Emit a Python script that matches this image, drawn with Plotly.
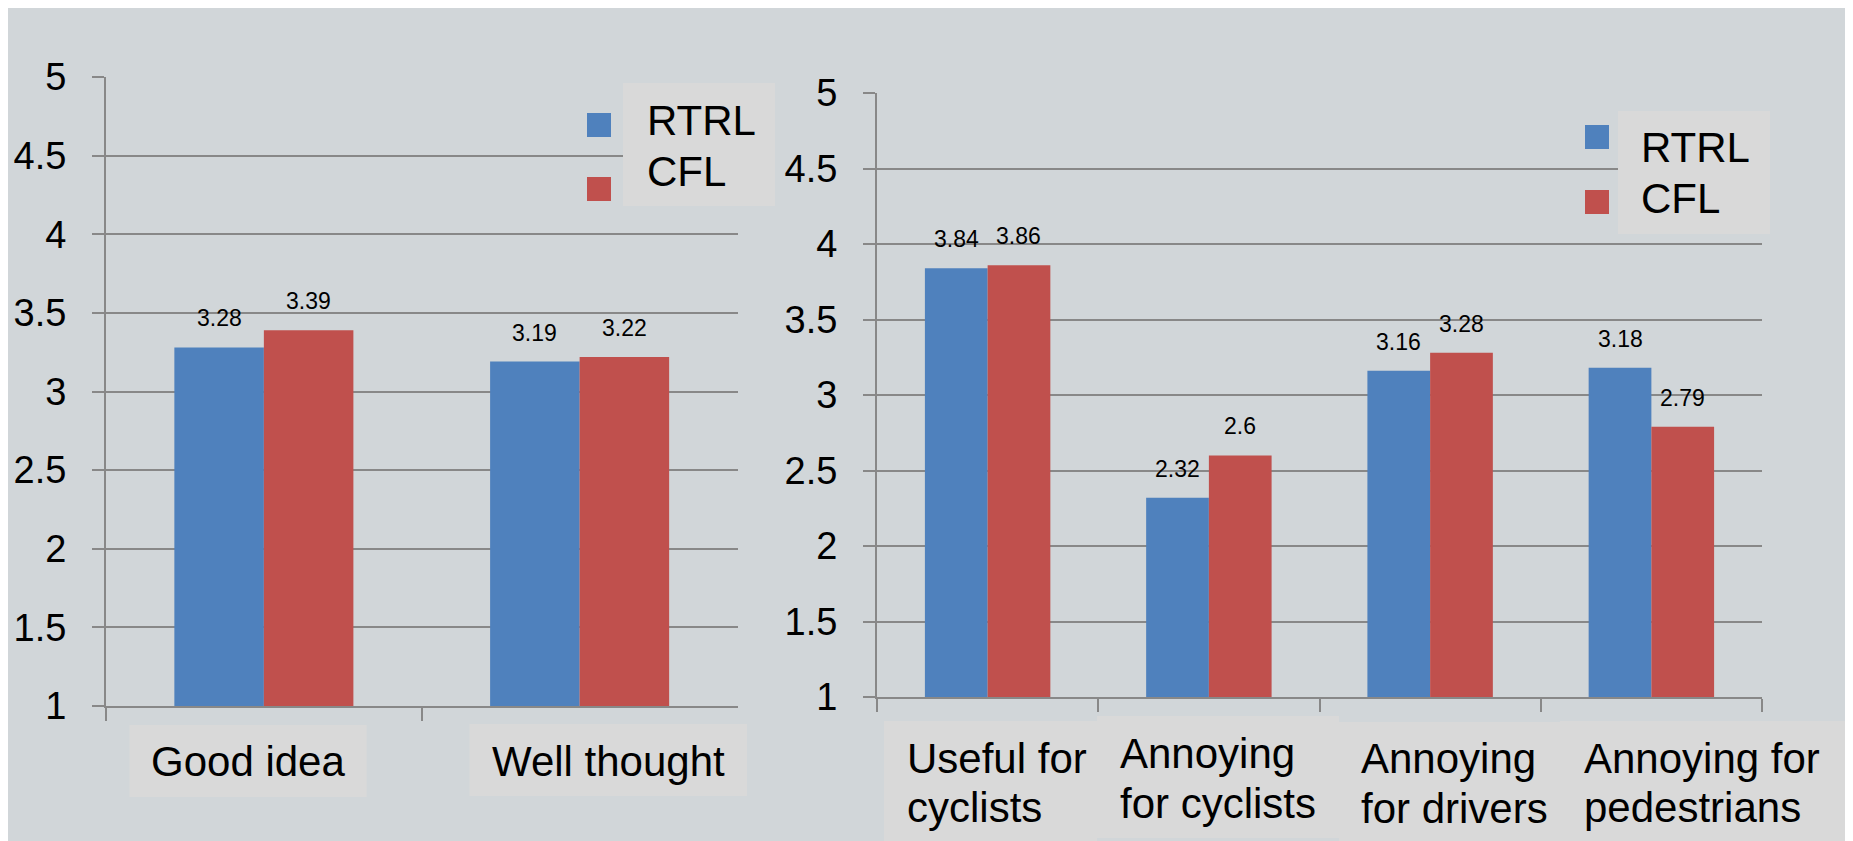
import plotly.graph_objects as go

# page is 1853x841, the browser puts the figure 8px in from the top-left corner
PAGE_W, PAGE_H = 1853, 841
OFF = 8
W, H = PAGE_W - OFF, PAGE_H - OFF

SERIES = ["RTRL", "CFL"]
COLORS = ["#4F81BD", "#C0504D"]

LEFT_CATS = ["Good idea", "Well thought"]
LEFT_RTRL = [3.28, 3.19]
LEFT_CFL = [3.39, 3.22]

RIGHT_CATS = [
    "Useful for<br>cyclists",
    "Annoying<br>for cyclists",
    "Annoying<br>for drivers",
    "Annoying for<br>pedestrians",
]
RIGHT_RTRL = [3.84, 2.32, 3.16, 3.18]
RIGHT_CFL = [3.86, 2.6, 3.28, 2.79]

Y_RANGE = [1, 5]
BARGAP = 0.433

FONT = "Liberation Sans, Arial, sans-serif"
BG = "#D1D6D9"
BOX = "#D9D9D9"
GRID = "#888888"


def fx(p):
    return (p - OFF) / W


def fy(p):
    return 1 - (p - OFF) / H


# plot areas in page pixels: (left, right), (top, bottom)
PANELS = [
    dict(xa="x", ya="y", px=(106, 737.5), py=(77, 706), cats=LEFT_CATS,
         vals=[LEFT_RTRL, LEFT_CFL]),
    dict(xa="x2", ya="y2", px=(877, 1762), py=(93, 697), cats=RIGHT_CATS,
         vals=[RIGHT_RTRL, RIGHT_CFL]),
]

# label boxes: (left, right, top, bottom), text left (None = centred), baselines
LABEL_BOXES = [
    [((129.5, 366.7, 725, 797), None, [776]),
     ((469.5, 747, 724, 796), None, [776])],
    [((884, 1097, 721, 845), 905, [773, 822]),
     ((1097, 1339, 716, 838), 1118, [768, 818]),
     ((1339, 1560, 722, 845), 1359, [773, 823]),
     ((1560, 1860, 721, 845), 1582, [773, 822])],
]

# legends: box, square x, square tops, text left, text baselines
LEGENDS = [
    dict(box=(623, 775, 83, 206), sq_x=587, sq_y=[113, 177], tx=645, base=[135, 186]),
    dict(box=(1618, 1770, 111, 234), sq_x=1585, sq_y=[125, 190], tx=1639, base=[162, 213]),
]

fig = go.Figure()
shapes = [
    dict(type="rect", xref="paper", yref="paper", x0=fx(1847), x1=1.01, y0=-0.01, y1=1.01,
         fillcolor="#DADEE0", line_width=0, layer="below"),
]
annotations = []

for k, p in enumerate(PANELS):
    cats = p["cats"]
    for s, name in enumerate(SERIES):
        fig.add_trace(go.Bar(
            x=cats, y=p["vals"][s], name=name, marker_color=COLORS[s],
            marker_line_width=0, xaxis=p["xa"], yaxis=p["ya"], showlegend=False,
        ))
    cat_px = (p["px"][1] - p["px"][0]) / len(cats)
    half = cat_px * (1 - BARGAP) / 4
    for s in range(len(SERIES)):
        for c, v in zip(cats, p["vals"][s]):
            annotations.append(dict(
                x=c, y=v, xref=p["xa"], yref=p["ya"], text=f"{v:g}",
                showarrow=False, xshift=(2 * s - 1) * half, yshift=14,
                yanchor="bottom", font=dict(size=23, color="black", family=FONT),
            ))
    for i, c in enumerate(cats):
        centre = p["px"][0] + cat_px * (i + 0.5)
        (bx0, bx1, by0, by1), tx, bases = LABEL_BOXES[k][i]
        shapes.append(dict(type="rect", xref="paper", yref="paper",
                           x0=fx(bx0), x1=fx(bx1), y0=fy(by1), y1=fy(by0),
                           fillcolor=BOX, line_width=0, layer="below"))
        for line, b in zip(c.split("<br>"), bases):
            a = dict(x=c, xref=p["xa"], y=fy(b - 14.6), yref="paper", text=line,
                     showarrow=False, yanchor="middle",
                     font=dict(size=42, color="black", family=FONT))
            if tx is None:
                a.update(xanchor="center", xshift=(bx0 + bx1) / 2 - centre)
            else:
                a.update(xanchor="left", xshift=tx - centre)
            annotations.append(a)

for lg in LEGENDS:
    x0, x1, y0, y1 = lg["box"]
    shapes.append(dict(type="rect", xref="paper", yref="paper", x0=fx(x0), x1=fx(x1),
                       y0=fy(y1), y1=fy(y0), fillcolor=BOX, line_width=0, layer="above"))
    for s, name in enumerate(SERIES):
        t = lg["sq_y"][s]
        shapes.append(dict(type="rect", xref="paper", yref="paper",
                           x0=fx(lg["sq_x"]), x1=fx(lg["sq_x"] + 24),
                           y0=fy(t + 24), y1=fy(t), fillcolor=COLORS[s],
                           line_width=0, layer="above"))
        annotations.append(dict(x=fx(lg["tx"]), y=fy(lg["base"][s] - 14.6),
                                xref="paper", yref="paper", text=name, showarrow=False,
                                xanchor="left", yanchor="middle",
                                font=dict(size=42, color="black", family=FONT)))

axis_common = dict(showline=True, linecolor=GRID, linewidth=2, fixedrange=True)
layout = dict(
    width=W, height=H, margin=dict(l=0, r=0, t=0, b=0), autosize=False,
    paper_bgcolor=BG, plot_bgcolor=BG, barmode="group", bargap=BARGAP,
    bargroupgap=0, showlegend=False, shapes=shapes, annotations=annotations,
    font=dict(family=FONT, color="black"),
)
for k, p in enumerate(PANELS):
    sfx = "" if k == 0 else "2"
    layout["xaxis" + sfx] = dict(
        domain=[fx(p["px"][0]), fx(p["px"][1])], anchor="y" + sfx,
        type="category", range=[-0.5, len(p["cats"]) - 0.5],
        showticklabels=False, ticks="outside", ticklen=13, tickwidth=2,
        tickcolor=GRID, tickson="boundaries", showgrid=False, automargin=False,
        **axis_common,
    )
    layout["yaxis" + sfx] = dict(
        domain=[fy(p["py"][1]), fy(p["py"][0])], anchor="x" + sfx,
        range=Y_RANGE, dtick=0.5, tick0=1, ticks="outside", ticklen=12,
        tickwidth=2, tickcolor=GRID, showgrid=True, gridcolor=GRID, gridwidth=2,
        zeroline=False, tickfont=dict(size=38, color="black", family=FONT),
        ticklabelstandoff=18, automargin=False, **axis_common,
    )

fig.update_layout(**layout)
fig.write_html("out.html")
